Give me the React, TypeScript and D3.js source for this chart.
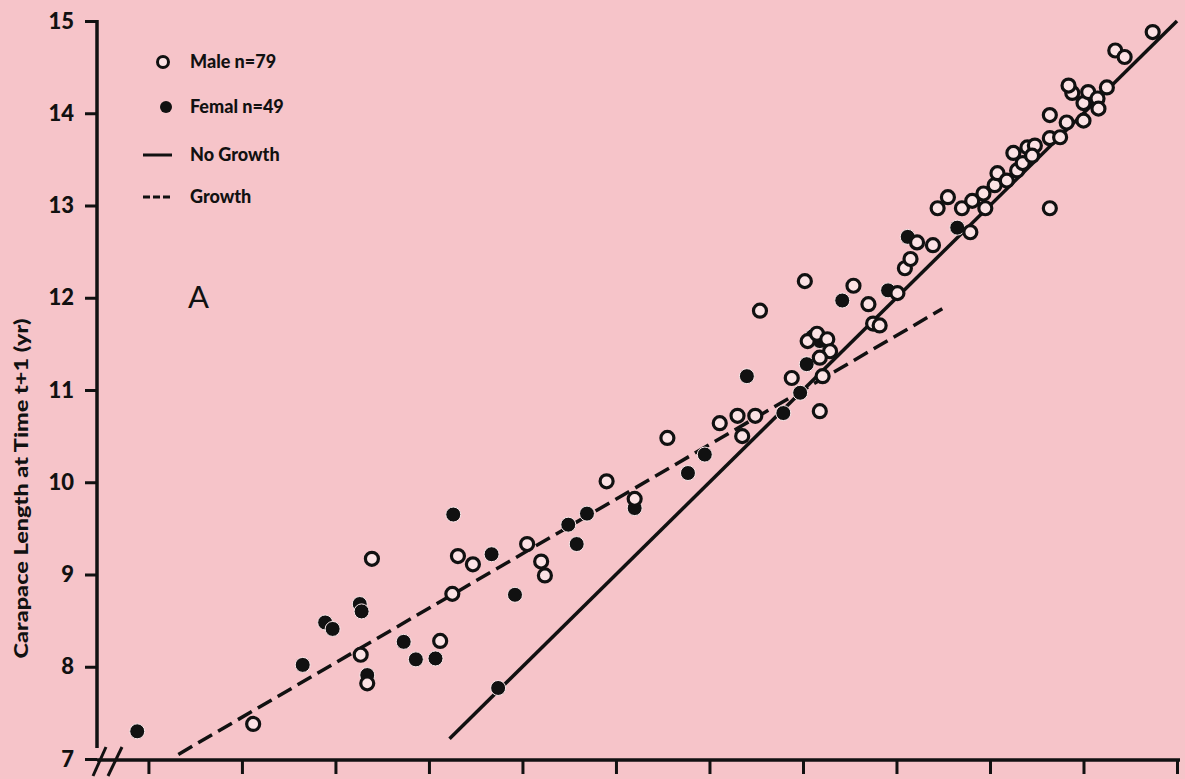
import React, { useEffect, useRef } from 'react';
import * as d3 from 'd3';

// carapace length at time t (x) and t+1 (y)
const maleX = [5.12, 6.27, 6.34, 6.39, 7.12, 7.25, 7.31, 7.47, 8.05, 8.2, 8.24, 8.9, 9.2, 9.55, 10.11, 10.3, 10.35, 10.49, 10.54, 10.88, 11.02, 11.05, 11.15, 11.26, 11.29, 11.18, 11.21, 11.18, 11.54, 11.7, 11.75, 11.82, 12.01, 12.09, 12.22, 12.15, 12.39, 12.44, 12.55, 12.7, 12.79, 12.81, 12.93, 12.95, 13.05, 13.08, 13.18, 13.29, 13.35, 13.25, 13.4, 13.48, 13.45, 13.64, 13.75, 13.64, 13.82, 14.0, 13.88, 13.84, 14.0, 14.05, 14.15, 14.16, 14.25, 14.34, 14.44, 14.74, 13.64];
const maleY = [7.38, 8.13, 7.82, 9.17, 8.28, 8.79, 9.2, 9.11, 9.33, 9.14, 8.99, 10.01, 9.82, 10.48, 10.64, 10.72, 10.5, 10.72, 11.86, 11.13, 12.18, 11.53, 11.61, 11.55, 11.42, 11.35, 11.15, 10.77, 12.13, 11.93, 11.72, 11.7, 12.05, 12.32, 12.6, 12.42, 12.57, 12.97, 13.09, 12.97, 12.71, 13.05, 13.13, 12.97, 13.22, 13.35, 13.27, 13.38, 13.46, 13.57, 13.63, 13.65, 13.54, 13.73, 13.74, 13.98, 13.9, 13.92, 14.22, 14.3, 14.11, 14.23, 14.16, 14.05, 14.28, 14.68, 14.61, 14.88, 12.97];

const femaleX = [3.88, 5.65, 5.89, 5.97, 6.26, 6.28, 6.34, 6.73, 6.86, 7.07, 7.26, 7.67, 7.74, 7.92, 8.49, 8.58, 8.69, 9.2, 9.77, 9.95, 10.4, 10.79, 10.97, 11.1, 11.18, 11.04, 11.42, 11.91, 12.12, 12.65];
const femaleY = [7.3, 8.02, 8.48, 8.41, 8.68, 8.6, 7.91, 8.27, 8.08, 8.09, 9.65, 9.22, 7.77, 8.78, 9.54, 9.33, 9.66, 9.72, 10.1, 10.3, 11.15, 10.75, 10.97, 11.58, 11.53, 11.28, 11.97, 12.08, 12.66, 12.76];

// fitted lines (end points)
const noGrowthX = [7.22, 15.0];
const noGrowthY = [7.22, 15.0];
const growthX = [4.32, 12.49];
const growthY = [7.05, 11.88];

const yTicks = [7, 8, 9, 10, 11, 12, 13, 14, 15];
const xTicks = [4, 5, 6, 7, 8, 9, 10, 11, 12, 13, 14, 15];

const legendLabels = ['Male n=79', 'Femal n=49', 'No Growth', 'Growth'];

const W = 1185;
const H = 779;
const BG = '#f6c4c9';
const INK = '#111';
const FONT = 'Lato, "DejaVu Sans", sans-serif';

export default function App() {
  const svgRef = useRef<SVGSVGElement>(null);

  useEffect(() => {
    if (!svgRef.current) return;
    const svg = d3.select(svgRef.current);
    svg.selectAll('*').remove();

    const x = d3.scaleLinear().domain([3.45, 15]).range([97, 1177]);
    const y = d3.scaleLinear().domain([7, 15]).range([759, 21]);
    const axisY = 760;

    svg.append('rect').attr('width', W).attr('height', H).attr('fill', BG);

    // y axis
    const gy = svg.append('g').attr('transform', `translate(${x(3.45)},0)`);
    gy.call(d3.axisLeft(y).tickValues(yTicks).tickSize(12).tickFormat(d3.format('d')) as any);
    gy.select('.domain').remove();
    gy.selectAll('line').attr('stroke', INK).attr('stroke-width', 3);
    gy.selectAll('text')
      .attr('x', -23)
      .attr('fill', INK)
      .attr('font-size', 22)
      .attr('font-weight', 900)
      .attr('font-family', FONT);
    svg.append('line')
      .attr('x1', x(3.45)).attr('x2', x(3.45))
      .attr('y1', y(15) - 1).attr('y2', 748)
      .attr('stroke', INK).attr('stroke-width', 3.5);

    // x axis
    const gx = svg.append('g').attr('transform', `translate(0,${axisY})`);
    gx.call(d3.axisBottom(x).tickValues(xTicks).tickSize(14).tickFormat(() => '') as any);
    gx.select('.domain').remove();
    gx.selectAll('line').attr('stroke', INK).attr('stroke-width', 3);
    svg.append('line')
      .attr('x1', x(3.45)).attr('x2', x(15) + 3)
      .attr('y1', axisY).attr('y2', axisY)
      .attr('stroke', INK).attr('stroke-width', 3.5);

    // axis break marks
    [[93, 106], [108, 122]].forEach(([a, b]) => {
      svg.append('line')
        .attr('x1', a).attr('y1', 776).attr('x2', b).attr('y2', 747)
        .attr('stroke', INK).attr('stroke-width', 3);
    });

    // y axis title
    svg.append('text')
      .attr('transform', `translate(28,${(317 + 660) / 2}) rotate(-90)`)
      .attr('text-anchor', 'middle')
      .attr('font-size', 19)
      .attr('font-weight', 900)
      .attr('font-family', FONT)
      .attr('fill', INK)
      .attr('textLength', 340)
      .attr('lengthAdjust', 'spacingAndGlyphs')
      .text('Carapace Length at Time t+1 (yr)');

    // lines
    const line = d3.line<[number, number]>().x(d => x(d[0])).y(d => y(d[1]));
    svg.append('path')
      .datum(noGrowthX.map((v, i) => [v, noGrowthY[i]] as [number, number]))
      .attr('d', line)
      .attr('fill', 'none').attr('stroke', INK).attr('stroke-width', 3.5);
    svg.append('path')
      .datum(growthX.map((v, i) => [v, growthY[i]] as [number, number]))
      .attr('d', line)
      .attr('fill', 'none').attr('stroke', INK).attr('stroke-width', 3.5)
      .attr('stroke-dasharray', '16,7');

    // points
    svg.append('g').selectAll('circle')
      .data(femaleX.map((v, i) => [v, femaleY[i]]))
      .join('circle')
      .attr('cx', d => x(d[0])).attr('cy', d => y(d[1]))
      .attr('r', 7.5)
      .attr('fill', INK)
      .attr('stroke', '#fbe9eb').attr('stroke-width', 1);
    svg.append('g').selectAll('circle')
      .data(maleX.map((v, i) => [v, maleY[i]]))
      .join('circle')
      .attr('cx', d => x(d[0])).attr('cy', d => y(d[1]))
      .attr('r', 6.5)
      .attr('fill', '#fbe2e4')
      .attr('stroke', INK).attr('stroke-width', 3.2);

    // legend
    const lg = svg.append('g').attr('font-family', FONT).attr('font-weight', 900).attr('font-size', 18).attr('fill', INK);
    const rows = [62, 107, 155, 197];
    lg.append('circle').attr('cx', 163).attr('cy', rows[0]).attr('r', 5.5).attr('fill', '#fbe2e4').attr('stroke', INK).attr('stroke-width', 3);
    lg.append('circle').attr('cx', 166).attr('cy', rows[1]).attr('r', 6).attr('fill', INK);
    lg.append('line').attr('x1', 143).attr('x2', 172).attr('y1', rows[2]).attr('y2', rows[2]).attr('stroke', INK).attr('stroke-width', 3);
    lg.append('line').attr('x1', 143).attr('x2', 172).attr('y1', rows[3]).attr('y2', rows[3]).attr('stroke', INK).attr('stroke-width', 3).attr('stroke-dasharray', '7,3');
    legendLabels.forEach((t, i) => {
      lg.append('text').attr('x', 190).attr('y', rows[i] + 6).text(t);
    });

    // panel letter
    svg.append('text')
      .attr('x', 188).attr('y', 308)
      .attr('font-family', FONT)
      .attr('font-size', 31)
      .attr('fill', INK)
      .text('A');
  }, []);

  return (
    <svg
      ref={svgRef}
      width={W}
      height={H}
      style={{ position: 'fixed', left: 0, top: 0, display: 'block' }}
    />
  );
}
